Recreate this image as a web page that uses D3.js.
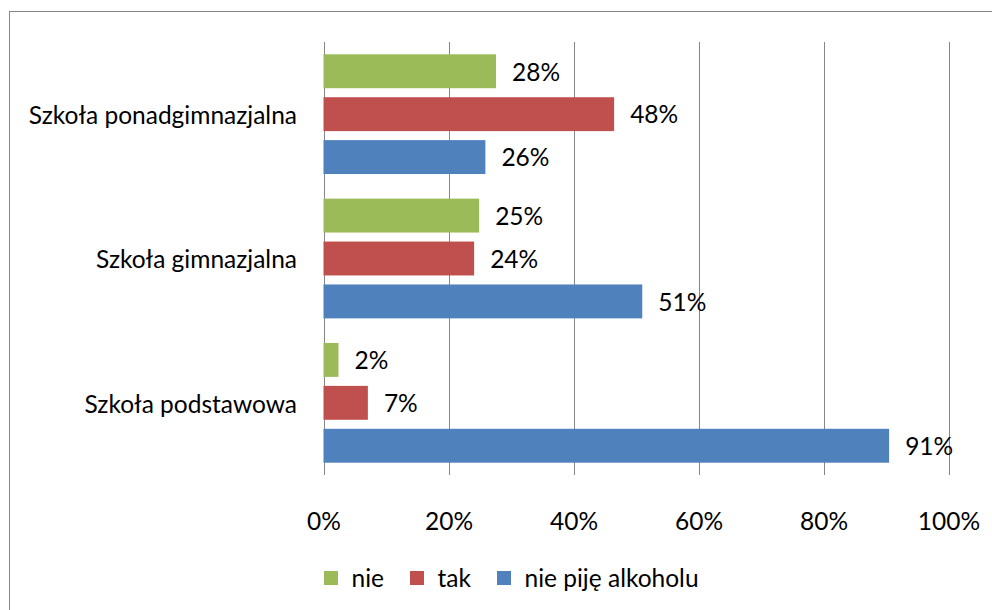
<!DOCTYPE html>
<html lang="pl">
<head>
<meta charset="UTF-8">
<title>Szkoła - alkohol</title>
<script src="https://cdn.jsdelivr.net/npm/d3@7"></script>
<style>
body{
	margin:0;
	background:#fff;
}
svg text{
	font-family:Lato, "Open Sans", sans-serif;
	fill:#000;
}
.grid line{
	stroke:#868686;
	stroke-width:1.5px;
	shape-rendering:crispEdges;
}
</style>
</head>
<body>
<script>
// kategorie od góry do dołu
var categories = ["Szkoła ponadgimnazjalna", "Szkoła gimnazjalna", "Szkoła podstawowa"];
var seriesNames = ["nie", "tak", "nie piję alkoholu"];
var seriesColors = ["#9bbb59", "#c0504d", "#4f81bd"];
var nieValues = [27.6, 24.9, 2.4];
var takValues = [46.5, 24.1, 7.1];
var niePijeValues = [25.9, 51.0, 90.5];
// etykiety przy słupkach
var nieLabels = ["28%", "25%", "2%"];
var takLabels = ["48%", "24%", "7%"];
var niePijeLabels = ["26%", "51%", "91%"];
var ticks = [0, 20, 40, 60, 80, 100];

var W = 992, H = 610, FS = "24.5px";
var plot = {left:323.5, right:948.5, top:42, bottom:475};

var svg = d3.select("body").append("svg").attr("width", W).attr("height", H);

// ramka wykresu
svg.append("rect").attr("x", 9.5).attr("y", 11.5).attr("width", W).attr("height", H)
	.attr("fill", "none").attr("stroke", "#868686").attr("stroke-width", 1);

var x = d3.scaleLinear().domain([0, 100]).range([plot.left, plot.right]);
var y = d3.scaleBand().domain(categories).range([plot.top, plot.bottom]);
var ySub = d3.scaleBand().domain(seriesNames).range([12.3, y.bandwidth() - 12.3]).paddingInner(0.21);

// linie siatki
svg.append("g").attr("class", "grid").selectAll("line").data(ticks).enter().append("line")
	.attr("x1", function(d){ return Math.round(x(d)) + 0.5; })
	.attr("x2", function(d){ return Math.round(x(d)) + 0.5; })
	.attr("y1", plot.top).attr("y2", plot.bottom);

// oś X
var xAxis = d3.axisBottom(x).tickValues(ticks).tickSize(0).tickPadding(0)
	.tickFormat(function(d){ return d + "%"; });
var gx = svg.append("g").attr("transform", "translate(0," + 521 + ")").call(xAxis);
gx.select(".domain").remove();
gx.selectAll("text").attr("dy", "0.35em").style("font-size", FS).style("font-family", "Lato, sans-serif").attr("fill", "#000");

// oś Y
var yAxis = d3.axisLeft(y).tickSize(0).tickPadding(0);
var gy = svg.append("g").attr("transform", "translate(" + 297 + ",0)").call(yAxis);
gy.select(".domain").remove();
gy.selectAll("text").attr("dy", "0.4em").style("font-size", FS).style("font-family", "Lato, sans-serif").attr("fill", "#000");

var rows = [];
categories.forEach(function(c, i){
	rows.push({cat:c, s:seriesNames[0], v:nieValues[i], l:nieLabels[i], color:seriesColors[0]});
	rows.push({cat:c, s:seriesNames[1], v:takValues[i], l:takLabels[i], color:seriesColors[1]});
	rows.push({cat:c, s:seriesNames[2], v:niePijeValues[i], l:niePijeLabels[i], color:seriesColors[2]});
});

var bars = svg.append("g").selectAll("g").data(rows).enter().append("g")
	.attr("transform", function(d){ return "translate(0," + (y(d.cat) + ySub(d.s)) + ")"; });

bars.append("rect")
	.attr("x", x(0))
	.attr("y", 0)
	.attr("width", function(d){ return x(d.v) - x(0); })
	.attr("height", ySub.bandwidth())
	.attr("fill", function(d){ return d.color; });

bars.append("text")
	.attr("x", function(d){ return x(d.v) + 16; })
	.attr("y", ySub.bandwidth() / 2)
	.attr("dy", "0.38em")
	.style("font-size", FS)
	.text(function(d){ return d.l; });

// legenda
var legendX = [324, 410, 497];
var legend = svg.append("g").selectAll("g").data(seriesNames).enter().append("g")
	.attr("transform", function(d, i){ return "translate(" + legendX[i] + "," + 578 + ")"; });
legend.append("rect").attr("x", 0).attr("y", -7).attr("width", 14).attr("height", 14)
	.attr("fill", function(d, i){ return seriesColors[i]; });
legend.append("text").attr("x", 27.5).attr("y", 0).attr("dy", "0.38em")
	.style("font-size", FS).text(function(d){ return d; });
</script>
</body>
</html>
